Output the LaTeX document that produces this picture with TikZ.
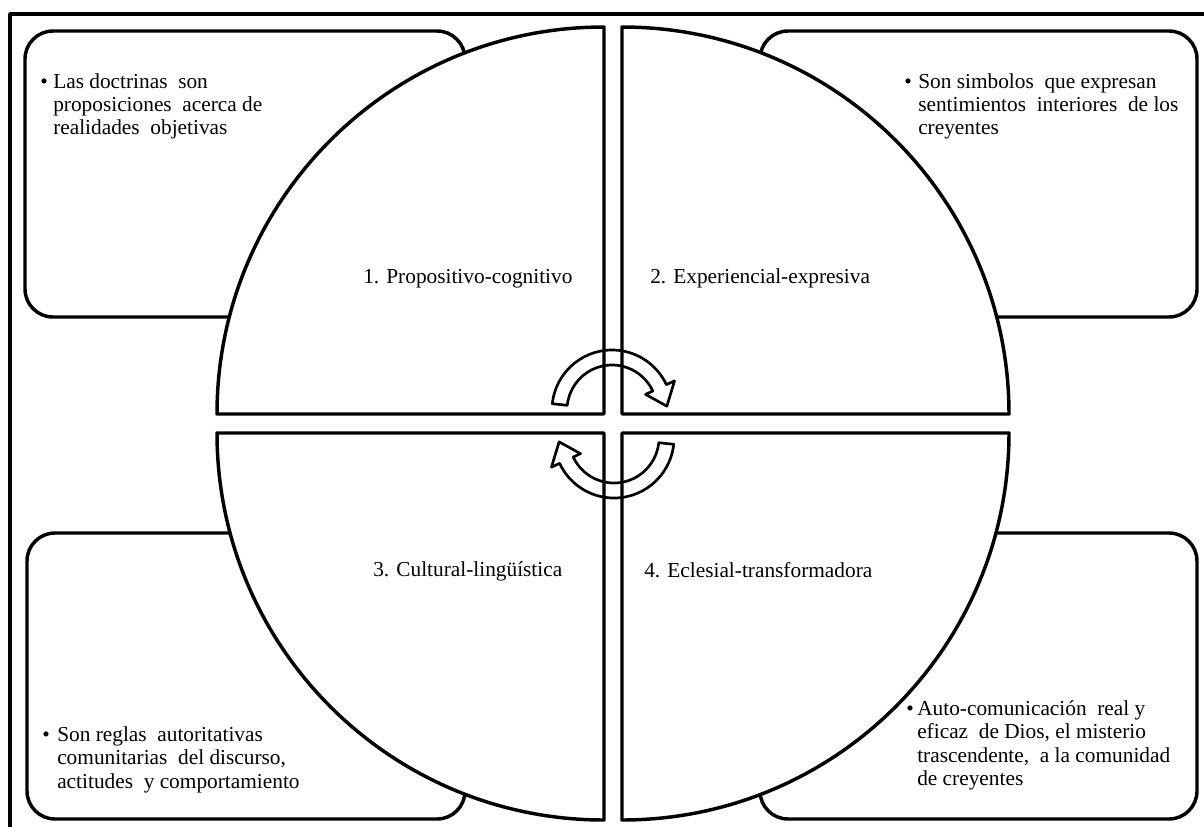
\documentclass[tikz,border=0pt]{standalone}
\usepackage{fontspec}
\setmainfont{Liberation Serif}
\begin{document}
\begin{tikzpicture}[x=0.75pt,y=-0.75pt, line join=round,
  frame/.style={line width=2.6pt},
  boxstyle/.style={line width=2.6pt, rounded corners=21pt},
  sector/.style={line width=2.6pt, fill=white},
  cyc/.style={line width=2pt},
  lbl/.style={anchor=base west, inner sep=0pt, font=\fontsize{16}{18}\selectfont},
  txt/.style={anchor=base west, inner sep=0pt, font=\fontsize{16}{18}\selectfont},
  bul/.style={anchor=base west, inner sep=0pt, font=\fontsize{16}{18}\selectfont},
]
\useasboundingbox (0,0) rectangle (1204,826);
\clip (0,0) rectangle (1204,826);
% outer frame (runs off the page on the right and bottom)
\draw[frame] (10,900) -- (10,14) -- (1300,14);
% corner boxes
\draw[boxstyle] (25,31) rectangle (465,317);
\draw[boxstyle] (760,31) rectangle (1197,317);
\draw[boxstyle] (27,533) rectangle (465,819);
\draw[boxstyle] (760,533) rectangle (1197,819);
% quarter sectors
\draw[sector] (604,414) -- (217,414) arc[start angle=180,end angle=270,radius=387] -- cycle;
\draw[sector] (622,414) -- (622,27) arc[start angle=270,end angle=360,radius=387] -- cycle;
\draw[sector] (622,433) -- (1009,433) arc[start angle=0,end angle=90,radius=387] -- cycle;
\draw[sector] (604,433) -- (604,820) arc[start angle=90,end angle=180,radius=387] -- cycle;
% circular arrows
\begin{scope}[shift={(612,410)}]
\draw[cyc] (186:60) arc[start angle=186,end angle=335,radius=60] -- (335:69) -- (356:55) -- (335:37) -- (335:45) arc[start angle=335,end angle=186,radius=45] -- cycle;
\end{scope}
\begin{scope}[shift={(614,438)}, rotate=180]
\draw[cyc] (186:60) arc[start angle=186,end angle=335,radius=60] -- (335:69) -- (356:55) -- (335:37) -- (335:45) arc[start angle=335,end angle=186,radius=45] -- cycle;
\end{scope}
% sector labels
\node[lbl] (l1) at (363,283) {1. Propositivo-cognitivo};
\node[lbl] (l2) at (650,283) {2. Experiencial-expresiva};
\node[lbl] (l3) at (373,576) {3. Cultural-lingüística};
\node[lbl] (l4) at (644,577) {4. Eclesial-transformadora};
% top-left text
\node[bul] (b1) at (40,88) {•};
\node[txt] (t11) at (53,88) {Las doctrinas \ son};
\node[txt] (t12) at (53,111) {proposiciones \ acerca de};
\node[txt] (t13) at (53,134) {realidades \ objetivas};
% top-right text
\node[bul] (b2) at (904,88) {•};
\node[txt] (t21) at (918,88) {Son simbolos \ que expresan};
\node[txt] (t22) at (918,111) {sentimientos \ interiores \ de los};
\node[txt] (t23) at (918,134) {creyentes};
% bottom-left text
\node[bul] (b3) at (42,741) {•};
\node[txt] (t31) at (57,741) {Son reglas \ autoritativas};
\node[txt] (t32) at (57,764.5) {comunitarias \ del discurso,};
\node[txt] (t33) at (57,788) {actitudes \ y comportamiento};
% bottom-right text
\node[bul] (b4) at (906,715) {•};
\node[txt] (t41) at (917,715) {Auto-comunicación \ real y};
\node[txt] (t42) at (917,738.5) {eficaz \ de Dios, el misterio};
\node[txt] (t43) at (917,762) {trascendente, \ a la comunidad};
\node[txt] (t44) at (917,785.5) {de creyentes};
\end{tikzpicture}
\end{document}
